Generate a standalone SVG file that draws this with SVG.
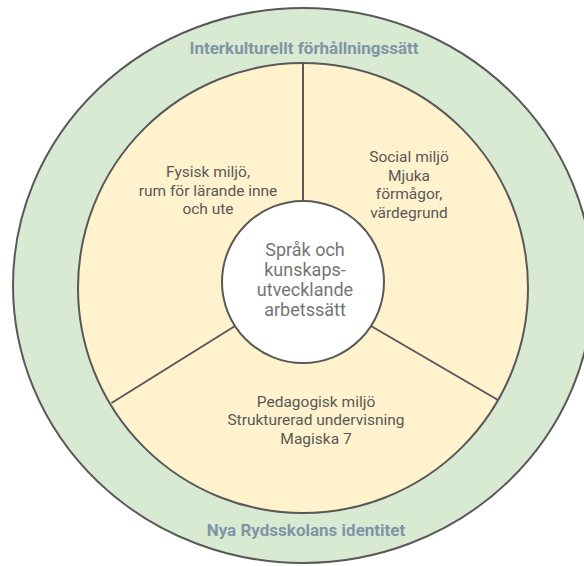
<svg xmlns="http://www.w3.org/2000/svg" width="584" height="566" viewBox="0 0 584 566">
<style>
.ring{fill:#d9ead3;stroke:#595959;stroke-width:2}
.sect{fill:#fff2cc;stroke:#595959;stroke-width:2}
.core{fill:#ffffff;stroke:#595959;stroke-width:2}
.ol{font-family:Roboto,"Liberation Sans",sans-serif;font-weight:bold;font-size:17px;fill:#8095a6;text-anchor:middle}
.tx{font-family:Roboto,"Liberation Sans",sans-serif;font-size:15.5px;fill:#595959;text-anchor:middle}
.ct{font-family:Roboto,"Liberation Sans",sans-serif;font-size:18px;fill:#757575;text-anchor:middle}
.ln{stroke:#595959;stroke-width:2;fill:none}
</style>
<rect width="584" height="566" fill="#ffffff"/>
<g id="outer">
<ellipse class="ring" cx="303" cy="285.5" rx="290" ry="277.5"/>
<text class="ol" x="304" y="54">Interkulturellt förhållningssätt</text>
<text class="ol" x="306" y="536">Nya Rydsskolans identitet</text>
</g>
<g id="inner">
<circle class="sect" cx="303" cy="288" r="225"/>
</g>
<g id="connectors">
<line class="ln" x1="303" y1="63" x2="303" y2="202"/>
<line class="ln" x1="235" y1="326" x2="111.5" y2="403"/>
<line class="ln" x1="371" y1="326" x2="498" y2="400"/>
</g>
<g id="fysisk">
<text class="tx" x="208" y="177">Fysisk miljö,</text>
<text class="tx" x="208" y="195.5">rum för lärande inne</text>
<text class="tx" x="208" y="214">och ute</text>
</g>
<g id="social">
<text class="tx" x="409" y="162">Social miljö</text>
<text class="tx" x="409" y="180.5">Mjuka</text>
<text class="tx" x="409" y="199">förmågor,</text>
<text class="tx" x="409" y="217.5">värdegrund</text>
</g>
<g id="pedagogisk">
<text class="tx" x="316" y="406.5">Pedagogisk miljö</text>
<text class="tx" x="316" y="425">Strukturerad undervisning</text>
<text class="tx" x="316" y="443.5">Magiska 7</text>
</g>
<g id="center">
<circle class="core" cx="303" cy="282" r="81"/>
<text class="ct" x="305" y="256">Språk och</text>
<text class="ct" x="305" y="276">kunskaps-</text>
<text class="ct" x="305" y="296">utvecklande</text>
<text class="ct" x="305" y="316">arbetssätt</text>
</g>
</svg>
